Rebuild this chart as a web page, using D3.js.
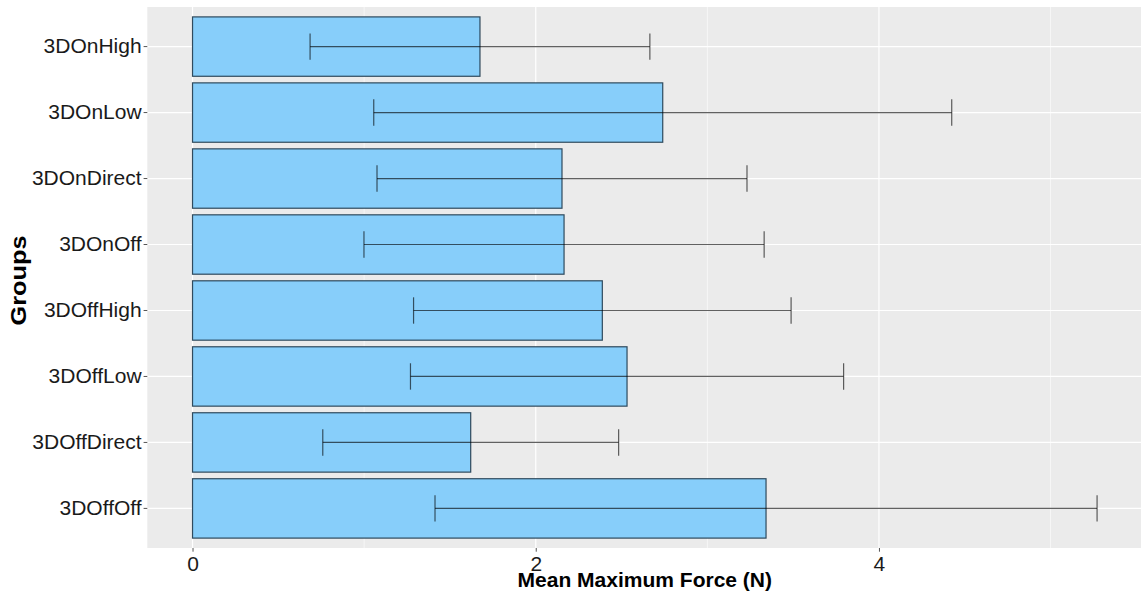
<!DOCTYPE html>
<html>
<head>
<meta charset="utf-8">
<script src="https://cdn.jsdelivr.net/npm/d3@7"></script>
<style>
  html, body { margin: 0; padding: 0; background: #ffffff; }
  svg { display: block; }
  text { font-family: "Liberation Sans", Arial, sans-serif; }
</style>
</head>
<body>
<script>
// Groups, listed from top to bottom
const groups = ["3DOnHigh", "3DOnLow", "3DOnDirect", "3DOnOff",
                "3DOffHigh", "3DOffLow", "3DOffDirect", "3DOffOff"];
// Mean maximum force per group (N)
const meanForce = [1.675, 2.740, 2.153, 2.165, 2.388, 2.532, 1.621, 3.342];
// Standard deviation per group (N)
const sdForce = [0.990, 1.684, 1.078, 1.166, 1.100, 1.262, 0.862, 1.929];
const xTicks = [0, 2, 4];
const xMinor = [1, 3, 5];

const W = 1141, H = 597;
const panel = { left: 147.3, right: 1142.3, top: 7, bottom: 548 };

const svg = d3.select("body").append("svg")
  .attr("width", W).attr("height", H);

const highs = meanForce.map((m, i) => m + sdForce[i]);
const maxHigh = d3.max(highs);
const pad = 0.05 * maxHigh;

const x = d3.scaleLinear()
  .domain([-pad, maxHigh + pad])
  .range([panel.left, panel.right]);

const y = d3.scaleBand()
  .domain(groups)
  .range([panel.top, panel.bottom])
  .paddingInner(0.1)
  .paddingOuter(0.15);

const step = y.step();
const center = g => y(g) + y.bandwidth() / 2;

// panel background
svg.append("rect")
  .attr("x", panel.left).attr("y", panel.top)
  .attr("width", panel.right - panel.left)
  .attr("height", panel.bottom - panel.top)
  .attr("fill", "#EBEBEB");

const grid = svg.append("g");
// minor vertical grid
grid.selectAll("line.minor").data(xMinor).join("line")
  .attr("x1", d => x(d)).attr("x2", d => x(d))
  .attr("y1", panel.top).attr("y2", panel.bottom)
  .attr("stroke", "#ffffff").attr("stroke-width", 0.6);
// major vertical grid
grid.selectAll("line.major").data(xTicks).join("line")
  .attr("x1", d => x(d)).attr("x2", d => x(d))
  .attr("y1", panel.top).attr("y2", panel.bottom)
  .attr("stroke", "#ffffff").attr("stroke-width", 1.2);
// horizontal grid at each group
grid.selectAll("line.hgrid").data(groups).join("line")
  .attr("x1", panel.left).attr("x2", panel.right)
  .attr("y1", d => center(d)).attr("y2", d => center(d))
  .attr("stroke", "#ffffff").attr("stroke-width", 1.2);

// bars
svg.append("g").selectAll("rect").data(groups).join("rect")
  .attr("x", x(0))
  .attr("y", d => y(d))
  .attr("width", (d, i) => x(meanForce[i]) - x(0))
  .attr("height", y.bandwidth())
  .attr("fill", "#87CEFA")
  .attr("stroke", "#1f3a4d")
  .attr("stroke-opacity", 0.9)
  .attr("stroke-width", 1.2);

// error bars (mean ± sd)
const capH = 0.4 * step;
const eb = svg.append("g")
  .attr("stroke", "#000000")
  .attr("stroke-opacity", 0.62)
  .attr("stroke-width", 1.2)
  .attr("fill", "none");
groups.forEach((g, i) => {
  const lo = meanForce[i] - sdForce[i];
  const hi = meanForce[i] + sdForce[i];
  const cy = center(g);
  eb.append("line")
    .attr("x1", x(lo)).attr("x2", x(hi))
    .attr("y1", cy).attr("y2", cy);
  eb.append("line")
    .attr("x1", x(lo)).attr("x2", x(lo))
    .attr("y1", cy - capH / 2).attr("y2", cy + capH / 2);
  eb.append("line")
    .attr("x1", x(hi)).attr("x2", x(hi))
    .attr("y1", cy - capH / 2).attr("y2", cy + capH / 2);
});

// x axis
const xAxis = svg.append("g")
  .attr("transform", `translate(0,${panel.bottom})`)
  .call(d3.axisBottom(x).tickValues(xTicks).tickFormat(d3.format("d"))
    .tickSize(3.7).tickPadding(4));
xAxis.select(".domain").remove();
xAxis.selectAll(".tick line").attr("stroke", "#555555").attr("stroke-width", 1);
xAxis.selectAll(".tick text")
  .attr("font-size", 21).attr("fill", "#1a1a1a")
  .attr("font-family", "Liberation Sans, Arial, sans-serif");

// y axis
const yAxis = svg.append("g")
  .attr("transform", `translate(${panel.left},0)`)
  .call(d3.axisLeft(y).tickSize(3.7).tickPadding(2));
yAxis.select(".domain").remove();
yAxis.selectAll(".tick line").attr("stroke", "#555555").attr("stroke-width", 1);
yAxis.selectAll(".tick text")
  .attr("font-size", 21).attr("fill", "#1a1a1a")
  .attr("font-family", "Liberation Sans, Arial, sans-serif");

// axis titles
svg.append("text")
  .attr("x", (panel.left + panel.right) / 2)
  .attr("y", 587)
  .attr("text-anchor", "middle")
  .attr("font-size", 21)
  .attr("font-weight", "bold")
  .attr("fill", "#000000")
  .text("Mean Maximum Force (N)");

svg.append("text")
  .attr("transform", `translate(26,${(panel.top + panel.bottom) / 2 + 3}) rotate(-90)`)
  .attr("text-anchor", "middle")
  .attr("font-size", 22)
  .attr("font-weight", "bold")
  .attr("fill", "#000000")
  .attr("textLength", 90)
  .attr("lengthAdjust", "spacingAndGlyphs")
  .text("Groups");
</script>
</body>
</html>
